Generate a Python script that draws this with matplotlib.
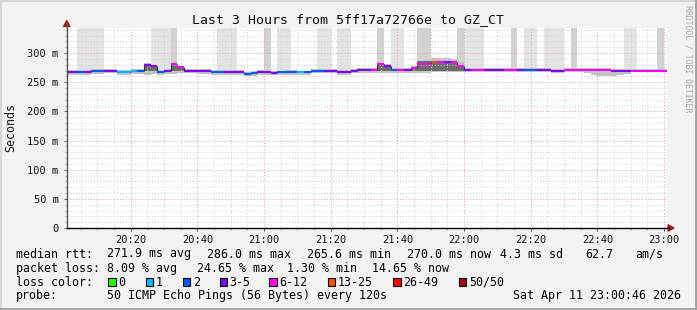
import matplotlib
matplotlib.use("Agg")
import matplotlib.pyplot as plt
from matplotlib.patches import Rectangle, Polygon
from matplotlib.lines import Line2D
import numpy as np

# 2-minute bins, minutes after 20:00
starts = np.arange(0, 182, 2)
t0 = 46 / 60.0  # graph starts at 20:00:46

median = [268, 268, 268, 268, 270, 270, 270, 270, 267, 267,
          270, 270, 280, 277, 268, 270, 281, 276, 270, 270,
          269, 269, 268, 268, 268, 268, 268, 264, 266, 268,
          268, 266, 267, 268, 268, 267, 267, 270, 270, 270,
          270, 268, 268, 270, 271, 271, 271, 281, 278, 271,
          271, 271, 275, 282, 282, 284, 285, 285, 284, 278,
          271, 271, 271, 271, 271, 271, 271, 271, 271, 271,
          271, 271, 271, 269, 269, 271, 271, 271, 271, 271,
          271, 271, 269, 269, 269, 270, 270, 270, 270, 270,
          270]

loss_class = [3, 3, 2, 3, 2, 2, 3, 3, 1, 1,
              1, 2, 3, 3, 2, 3, 4, 4, 3, 3,
              3, 3, 2, 2, 3, 3, 3, 2, 2, 3,
              3, 3, 2, 2, 2, 1, 2, 2, 2, 3,
              3, 3, 3, 3, 3, 3, 4, 4, 3, 2,
              4, 3, 4, 4, 4, 5, 4, 3, 4, 4,
              3, 4, 4, 3, 3, 3, 4, 4, 3, 2,
              2, 3, 3, 3, 3, 4, 4, 4, 4, 4,
              4, 4, 3, 3, 3, 4, 4, 4, 4, 4,
              4]

smoke_lo = [263, 263, 263, 263, 264, 264, 265, 265, 262, 262,
            264, 264, 263, 264, 263, 264, 264, 265, 265, 265,
            264, 264, 263, 263, 263, 263, 263, 260, 261, 263,
            263, 262, 262, 263, 263, 262, 262, 265, 265, 265,
            265, 263, 263, 265, 266, 266, 266, 266, 266, 266,
            266, 266, 266, 266, 266, 267, 267, 267, 267, 267,
            267, 267, 267, 267, 267, 267, 267, 267, 267, 267,
            267, 267, 267, 265, 265, 267, 267, 267, 266, 262,
            261, 261, 261, 262, 264, 267, 267, 267, 267, 267,
            267]

smoke_hi = [271, 271, 271, 271, 273, 273, 273, 273, 271, 271,
            273, 273, 283, 280, 271, 273, 284, 278, 273, 272,
            272, 272, 271, 271, 271, 271, 271, 268, 269, 271,
            271, 269, 270, 271, 271, 270, 270, 273, 273, 273,
            273, 271, 271, 273, 274, 274, 274, 285, 281, 274,
            274, 274, 278, 287, 288, 291, 291, 291, 290, 285,
            274, 274, 274, 274, 274, 274, 274, 274, 274, 274,
            274, 274, 274, 272, 272, 274, 274, 274, 274, 274,
            274, 274, 272, 272, 272, 273, 273, 273, 273, 273,
            273]

dark_bins = [12, 13, 16, 17, 47, 48, 52, 53, 54, 55, 56, 57, 58, 59]
dark_lo = [270, 269, 270, 269, 270, 270, 270, 269, 269, 270, 270, 270, 270, 270]
dark_hi = [279, 276, 280, 275, 280, 277, 274, 286, 286, 283, 285, 285, 284, 277]

# bins where the smoke runs off the top of the graph
tall_light = [2, 3, 4, 5, 13, 14, 15, 23, 24, 25, 32, 33, 38, 39, 41, 42,
              49, 50, 60, 61, 62, 69, 70, 72, 73, 74, 84, 85]
tall_dark = [16, 30, 47, 53, 54, 59, 67, 76, 89]

loss_colors = ['#26ff00', '#00b8ff', '#0059ff', '#7e00ff',
               '#ff00fe', '#ff5500', '#ff0000', '#a10000']
loss_labels = ['0', '1', '2', '3-5', '6-12', '13-25', '26-49', '50/50']

y_ticks = [0, 50, 100, 150, 200, 250, 300]
y_labels = ['0', '50 m', '100 m', '150 m', '200 m', '250 m', '300 m']
x_ticks = [20, 40, 60, 80, 100, 120, 140, 160, 180]
x_labels = ['20:20', '20:40', '21:00', '21:20', '21:40',
            '22:00', '22:20', '22:40', '23:00']

W, H = 697, 310
MONO = 'DejaVu Sans Mono'
fig = plt.figure(figsize=(W / 100, H / 100), dpi=100, facecolor='#f3f3f3')


def fx(px):
    return px / W


def fy(py):
    return 1 - py / H


ax = fig.add_axes([fx(66.6), fy(228), 600 / W, 200 / H])
ax.set_facecolor('white')
ax.set_xlim(t0, t0 + 180)
ax.set_ylim(0, 342.86)

med = np.array(median, dtype=float)
tl = np.array(tall_light)
td = np.array(tall_dark)
ax.bar(starts[tl], 400 - med[tl], bottom=med[tl], width=2, align='edge',
       color='#e4e4e4', linewidth=0, zorder=1)
ax.bar(starts[td], 400 - med[td], bottom=med[td], width=2, align='edge',
       color='#d2d2d2', linewidth=0, zorder=1)
lo = np.array(smoke_lo)
hi = np.array(smoke_hi)
ax.bar(starts, hi - lo, bottom=lo, width=2, align='edge',
       color='#c2c2c2', linewidth=0, zorder=2)
db = np.array(dark_bins)
ax.bar(starts[db], np.array(dark_hi) - np.array(dark_lo), bottom=dark_lo,
       width=2, align='edge', color='#6c6c6c', linewidth=0, zorder=2)

for j in range(1, len(starts)):
    if median[j] != median[j - 1]:
        ax.vlines(starts[j], median[j - 1], median[j], color='#303030',
                  lw=0.8, zorder=4)
ax.hlines(median, starts, starts + 2,
          colors=[loss_colors[k] for k in loss_class], lw=1.5, zorder=5)

ax.set_xticks(x_ticks)
ax.set_xticklabels(x_labels)
ax.set_xticks(np.arange(5, 181, 5), minor=True)
ax.set_yticks(y_ticks)
ax.set_yticklabels(y_labels)
ax.set_yticks(np.arange(10, 341, 10), minor=True)
ax.set_axisbelow(False)
ax.grid(which='minor', color='#d0d0d0', linestyle=(0, (1, 2)), lw=0.7)
ax.grid(which='major', color='#f29c9c', linestyle=(0, (1, 2)), lw=0.7)
ax.tick_params(which='major', length=2.5, width=0.7, color='#555555',
               labelsize=7.5, labelcolor='#111111')
ax.tick_params(which='minor', length=1.5, width=0.6, color='#999999')
ax.tick_params(axis='y', pad=3.3)
ax.tick_params(axis='x', pad=2.2)
for lab in ax.get_xticklabels() + ax.get_yticklabels():
    lab.set_family(MONO)
for s in ax.spines.values():
    s.set_visible(False)

# axes with arrows
fig.add_artist(Line2D([fx(66.6), fx(66.6)], [fy(228), fy(24)], color='#555555', lw=1))
fig.add_artist(Line2D([fx(66.6), fx(669)], [fy(228), fy(228)], color='#000000', lw=1))
fig.add_artist(Polygon([[fx(63.5), fy(26.5)], [fx(70), fy(26.5)], [fx(66.8), fy(20.5)]],
                       closed=True, color='#9b2020'))
fig.add_artist(Polygon([[fx(668), fy(224.8)], [fx(668), fy(231.2)], [fx(674), fy(228)]],
                       closed=True, color='#9b2020'))

fig.text(fx(348), fy(19.5), 'Last 3 Hours from 5ff17a72766e to GZ_CT',
         ha='center', va='center', fontsize=9.5, family=MONO, color='#111111')
fig.text(fx(11), fy(128), 'Seconds', rotation=90, ha='center', va='center',
         fontsize=8.4, family=MONO, color='#111111')
fig.text(fx(688), fy(5), 'RRDTOOL / TOBI OETIKER', rotation=-90, ha='center',
         va='top', fontsize=5.9, family=MONO, color='#a8a8a8')

fs = 8.4
row1 = [(16, 'median rtt:'), (107.3, '271.9 ms avg'), (207.3, '286.0 ms max'),
        (306.7, '265.6 ms min'), (406.7, '270.0 ms now'), (500, '4.3 ms sd'),
        (585, '62.7'), (635, 'am/s')]
row2 = [(16, 'packet loss:'), (107.3, '8.09 % avg'), (197.3, '24.65 % max'),
        (287.3, '1.30 % min'), (372.3, '14.65 % now')]
for x, s in row1:
    fig.text(fx(x), fy(254), s, ha='left', va='center', fontsize=fs, family=MONO)
for x, s in row2:
    fig.text(fx(x), fy(268.3), s, ha='left', va='center', fontsize=fs, family=MONO)

fig.text(fx(16), fy(282.3), 'loss color:', ha='left', va='center', fontsize=fs, family=MONO)
sq_x = [108.3, 145.7, 182.7, 219.7, 269.3, 327.5, 393.3, 459]
for x, c, lab in zip(sq_x, loss_colors, loss_labels):
    fig.add_artist(Rectangle((fx(x), fy(286)), 7.3 / W, 8 / H, facecolor=c,
                             edgecolor='black', lw=0.8))
    fig.text(fx(x + 10), fy(282.3), lab, ha='left', va='center', fontsize=fs, family=MONO)

fig.text(fx(16), fy(296), 'probe:', ha='left', va='center', fontsize=fs, family=MONO)
fig.text(fx(107.3), fy(296), '50 ICMP Echo Pings (56 Bytes) every 120s',
         ha='left', va='center', fontsize=fs, family=MONO)
fig.text(fx(681), fy(296), 'Sat Apr 11 23:00:46 2026', ha='right', va='center',
         fontsize=fs, family=MONO)

# frame
fig.add_artist(Line2D([0, 1], [fy(0.5), fy(0.5)], color='#d8d8d8', lw=1.5))
fig.add_artist(Line2D([fx(0.5), fx(0.5)], [0, 1], color='#d8d8d8', lw=1.5))
fig.add_artist(Line2D([0, 1], [fy(309), fy(309)], color='#a0a0a0', lw=2))
fig.add_artist(Line2D([fx(696), fx(696)], [0, 1], color='#a0a0a0', lw=2))

fig.savefig('out.png', dpi=100, facecolor=fig.get_facecolor())
